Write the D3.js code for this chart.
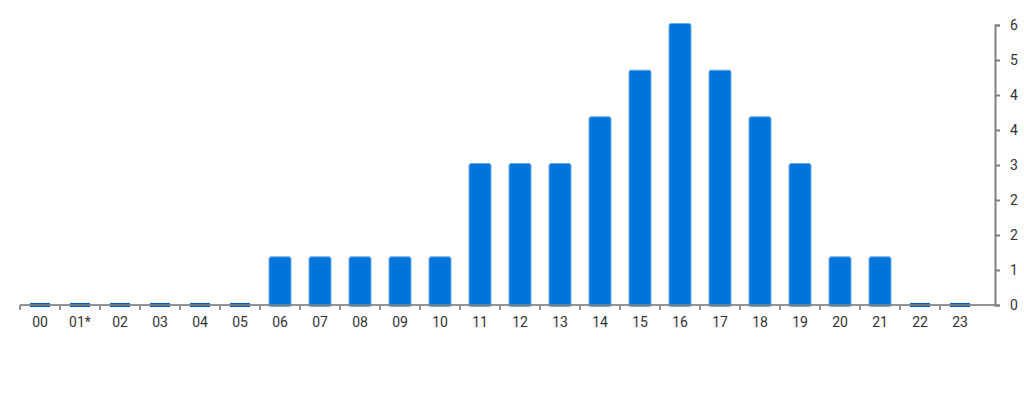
<!DOCTYPE html>
<html>
<head>
<meta charset="utf-8">
<script src="https://cdn.jsdelivr.net/npm/d3@7"></script>
<style>
  body { margin: 0; background: #fff; }
  text { font-family: Roboto, "Noto Sans", sans-serif; }
</style>
</head>
<body>
<div class="graph"></div>
<script>
// hours on the x axis and the count for each one
const hours = ["00", "01*", "02", "03", "04", "05", "06", "07", "08", "09", "10", "11",
    "12", "13", "14", "15", "16", "17", "18", "19", "20", "21", "22", "23"];
const counts = [0, 0, 0, 0, 0, 0, 1, 1, 1, 1, 1, 3, 3, 3, 4, 5, 6, 5, 4, 3, 1, 1, 0, 0];

// right hand axis ticks and the labels shown for them
const yTicks = [0, 0.75, 1.5, 2.25, 3, 3.75, 4.5, 5.25, 6];
const yTickLabels = ["0", "1", "2", "2", "3", "4", "4", "5", "6"];

const dimensions = {
    width: 1024,
    height: 400,
    margins: { top: 25, left: 20, right: 44, bottom: 95 }
};
dimensions.bottomY = dimensions.height - dimensions.margins.bottom;

const svg = d3.select(".graph")
    .append("svg")
        .attr("width", dimensions.width)
        .attr("height", dimensions.height);

const xScale = d3.scaleBand()
    .domain(hours)
    .range([dimensions.margins.left, dimensions.margins.left + 40 * hours.length])
    .paddingInner(0.45)
    .paddingOuter(0.225);

const yScale = d3.scaleLinear()
    .domain([0, 6])
    .range([dimensions.bottomY, dimensions.margins.top]);

const axisRight = dimensions.width - dimensions.margins.right + 15;

// bars (they carry a small base so they sit a bit above the value line)
const bars = svg.append("g");
const data = hours.map((h, i) => ({ hour: h, value: counts[i] }));

bars.selectAll("rect.bar")
    .data(data.filter(d => d.value > 0))
    .join("rect")
        .attr("class", "bar")
        .attr("x", d => xScale(d.hour))
        .attr("y", d => yScale(d.value) - 1.5)
        .attr("width", xScale.bandwidth())
        .attr("height", d => yScale(0) - yScale(d.value) + 3)
        .attr("rx", 2)
        .attr("fill", "#0074d9")
        .attr("stroke", "#6aaee8")
        .attr("stroke-width", 1);

// empty hours get a thin stub on the axis
bars.selectAll("rect.stub")
    .data(data.filter(d => d.value === 0))
    .join("rect")
        .attr("class", "stub")
        .attr("x", d => xScale(d.hour) + 1)
        .attr("y", yScale(0) - 2)
        .attr("width", xScale.bandwidth() - 2)
        .attr("height", 4)
        .attr("fill", "#0062bb");

// x axis line and ticks
const xAxis = svg.append("g").attr("stroke", "#808080").attr("stroke-opacity", 0.85);
xAxis.append("line")
    .attr("x1", dimensions.margins.left)
    .attr("x2", axisRight)
    .attr("y1", yScale(0))
    .attr("y2", yScale(0))
    .attr("stroke-width", 2);
xAxis.selectAll("line.tick")
    .data(hours)
    .join("line")
        .attr("class", "tick")
        .attr("x1", d => xScale(d) - xScale.step() * xScale.paddingOuter())
        .attr("x2", d => xScale(d) - xScale.step() * xScale.paddingOuter())
        .attr("y1", yScale(0))
        .attr("y2", yScale(0) + 5)
        .attr("stroke-width", 2);

svg.append("g")
    .selectAll("text")
    .data(hours)
    .join("text")
        .attr("x", d => xScale(d) + xScale.bandwidth() / 2)
        .attr("y", yScale(0) + 22)
        .attr("text-anchor", "middle")
        .attr("font-size", 14)
        .attr("fill", "#333")
        .text(d => d);

// y axis on the right
const yAxisGenerator = d3.axisRight(yScale)
    .tickValues(yTicks)
    .tickFormat((d, i) => yTickLabels[i])
    .tickSize(5)
    .tickPadding(10);

const yAxis = svg.append("g")
    .attr("transform", `translate(${axisRight},0)`)
    .call(yAxisGenerator);
yAxis.select(".domain").attr("stroke", "#808080").attr("stroke-width", 2);
yAxis.selectAll(".tick line").attr("stroke", "#808080").attr("stroke-width", 2);
yAxis.selectAll(".tick text")
    .attr("font-family", "Roboto, sans-serif")
    .attr("font-size", 14)
    .attr("fill", "#333");
</script>
</body>
</html>
